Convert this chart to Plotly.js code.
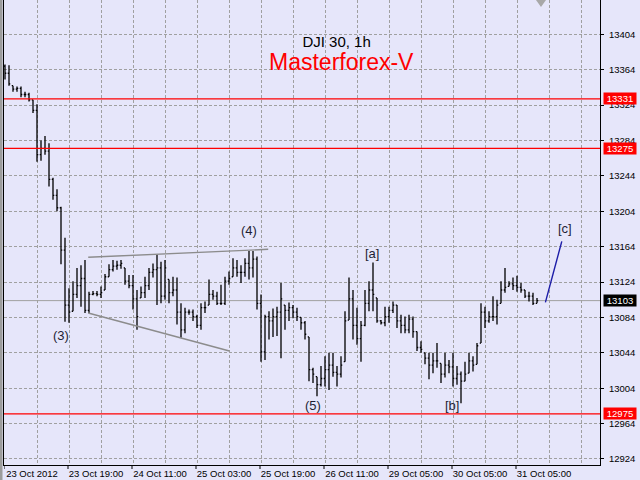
<!DOCTYPE html>
<html>
<head>
<meta charset="utf-8">
<script src="https://cdn.plot.ly/plotly-3.0.1.min.js"></script>
<style>html,body{margin:0;padding:0;background:#E6E6FA;}#chart{width:640px;height:480px;}</style>
</head>
<body>
<div id="chart"></div>
<script>
// ---- data (DJI 30, 1h bars) ----
const barOpen = [13368,13360,13346,13342,13343,13336,13336,13330,13318,13268,13275,13272,13240,13222,13208,13160,13098,13091,13110,13120,
13128,13092,13110,13111,13110,13115,13130,13138,13142,13143,13140,13125,13120,13105,13106,13112,13120,13135,13138,13140,
13108,13127,13112,13115,13090,13070,13090,13090,13085,13075,13095,13098,13110,13108,13100,13100,13125,13130,13140,13135,
13135,13145,13140,13150,13100,13045,13085,13080,13085,13090,13098,13092,13095,13090,13084,13078,13062,13025,13017,13008,
13015,13025,13030,13022,13020,13034,13081,13105,13075,13060,13075,13100,13115,13106,13080,13078,13085,13092,13098,13080,
13075,13070,13082,13068,13050,13044,13038,13030,13035,13032,13020,13030,13028,13015,13020,13012,13021,13035,13031,13055,
13090,13080,13085,13085,13100,13115,13119,13122,13120,13118,13115,13108,13108,13100];
const barHigh = [13370,13369,13346,13345,13345,13339,13338,13330,13325,13284,13289,13281,13242,13229,13209,13174,13117,13125,13140,13143,
13149,13113,13114,13114,13119,13133,13144,13149,13148,13149,13140,13132,13132,13115,13119,13130,13140,13145,13155,13147,
13149,13127,13130,13129,13100,13095,13093,13093,13087,13100,13102,13127,13115,13113,13121,13130,13136,13151,13149,13143,
13151,13159,13159,13153,13110,13087,13091,13094,13096,13123,13098,13101,13098,13095,13084,13080,13062,13027,13017,13029,
13040,13044,13044,13029,13040,13091,13129,13115,13095,13080,13115,13125,13146,13106,13081,13096,13096,13102,13098,13087,
13085,13087,13085,13068,13057,13044,13044,13044,13055,13032,13044,13036,13044,13029,13023,13034,13044,13040,13055,13100,
13096,13091,13108,13104,13125,13140,13125,13129,13131,13123,13115,13113,13112,13106];
const barLow = [13353,13346,13339,13339,13333,13333,13328,13315,13260,13261,13268,13232,13217,13204,13144,13079,13078,13091,13106,13096,
13089,13089,13109,13108,13106,13115,13130,13136,13138,13139,13121,13117,13093,13070,13106,13106,13115,13129,13098,13100,
13104,13100,13108,13076,13061,13066,13087,13080,13072,13070,13089,13098,13104,13098,13098,13098,13121,13130,13130,13123,
13130,13127,13129,13093,13034,13036,13059,13062,13063,13038,13070,13080,13083,13080,13070,13059,13012,13010,12995,13006,
13006,13002,13017,13006,13016,13034,13081,13059,13053,13034,13074,13091,13091,13078,13076,13074,13078,13089,13072,13066,
13066,13066,13061,13046,13044,13031,13014,13021,13027,13010,13016,13021,13006,13008,12987,13012,13021,13023,13031,13055,
13072,13078,13080,13076,13100,13112,13119,13115,13113,13112,13106,13102,13098,13100];
const barClose = [13360,13348,13342,13343,13336,13336,13330,13318,13268,13275,13272,13240,13222,13208,13160,13098,13090,13110,13120,13128,
13092,13110,13111,13110,13112,13130,13138,13142,13143,13145,13125,13120,13105,13085,13112,13120,13135,13138,13140,13108,
13140,13112,13115,13090,13070,13090,13090,13085,13075,13095,13095,13110,13108,13100,13100,13125,13128,13140,13135,13135,
13145,13140,13150,13100,13045,13085,13080,13085,13090,13105,13092,13095,13090,13085,13078,13065,13025,13020,13008,13015,
13025,13030,13022,13020,13030,13080,13105,13075,13060,13075,13100,13115,13110,13080,13078,13085,13092,13098,13080,13075,
13070,13082,13068,13050,13048,13038,13030,13035,13035,13020,13030,13028,13015,13020,13012,13020,13035,13030,13052,13090,
13080,13085,13085,13098,13115,13118,13122,13120,13118,13115,13108,13108,13100,13103];

const tickBars = [0,16,32,48,64,80,96,112,128];
const tickText = ['23 Oct 2012','23 Oct 19:00','24 Oct 11:00','25 Oct 03:00','25 Oct 19:00','26 Oct 11:00','29 Oct 05:00','30 Oct 05:00','31 Oct 05:00'];
const priceTicks = [12924,12964,13004,13044,13084,13124,13164,13204,13244,13284,13324,13364,13404];

const redLevels = [13331, 13275, 12975];
const currentPrice = 13103;

const triUpperX = [20.8, 65.8];
const triUpperY = [13152, 13161];
const triLowerX = [20.8, 56.1];
const triLowerY = [13089, 13046];

const waveCX = [135.1, 139.2];
const waveCY = [13101, 13170];

const waveText = ['(3)','(4)','(5)','[a]','[b]','[c]'];
const waveX = [13.9, 60.9, 76.9, 91.8, 111.8, 139.9];
const waveY = [13064, 13182, 12985, 13156, 12985, 13184];

// ---- build ----
const barIndex = barClose.map((_, i) => i);
const FONT = 'Liberation Sans, Arial, sans-serif';

const traces = [
  {
    type: 'ohlc', x: barIndex, open: barOpen, high: barHigh, low: barLow, close: barClose,
    increasing: {line: {color: '#000000', width: 1.3}},
    decreasing: {line: {color: '#000000', width: 1.3}},
    tickwidth: 0.32, hoverinfo: 'skip', showlegend: false
  },
  {type: 'scatter', mode: 'lines', x: triUpperX, y: triUpperY, line: {color: '#8c8c8c', width: 1.4}, hoverinfo: 'skip', showlegend: false},
  {type: 'scatter', mode: 'lines', x: triLowerX, y: triLowerY, line: {color: '#8c8c8c', width: 1.4}, hoverinfo: 'skip', showlegend: false},
  {type: 'scatter', mode: 'lines', x: waveCX, y: waveCY, line: {color: '#1c1ca8', width: 1.4}, hoverinfo: 'skip', showlegend: false}
];

const shapes = [];
redLevels.forEach(v => shapes.push({type: 'line', xref: 'paper', x0: 0, x1: 1, yref: 'y', y0: v, y1: v, line: {color: '#ff0000', width: 1.2}, layer: 'above'}));
shapes.push({type: 'line', xref: 'paper', x0: 0, x1: 1, yref: 'y', y0: currentPrice, y1: currentPrice, line: {color: '#a0a0a0', width: 1}, layer: 'below'});
// x-axis tick marks (below the axis line)
tickBars.forEach(b => shapes.push({type: 'line', xref: 'x', yref: 'paper', x0: b - 0.25, x1: b - 0.25, y0: 0, y1: -4/465, line: {color: '#000000', width: 1}}));
// left window frame
shapes.push({type: 'rect', xref: 'paper', yref: 'paper', x0: -4/596, x1: -1.5/596, y0: -15/465, y1: 1, fillcolor: '#9c9c9c', line: {width: 0}});
// chart shift marker
shapes.push({type: 'path', xref: 'paper', yref: 'paper', path: 'M 0.8926 1 L 0.9094 1 L 0.9010 0.985 Z', fillcolor: '#a8a8a8', line: {width: 0}});

const annotations = [];
waveText.forEach((t, i) => annotations.push({
  x: waveX[i], y: waveY[i], xref: 'x', yref: 'y', text: t, showarrow: false,
  font: {family: FONT, size: 13, color: '#1e1e34'}, xanchor: 'center', yanchor: 'middle'
}));
annotations.push({
  xref: 'paper', yref: 'paper', x: 0.5655, y: 0.866, text: 'Masterforex-V', showarrow: false,
  font: {family: FONT, size: 23, color: '#ff0000'}, xanchor: 'center', yanchor: 'middle'
});
redLevels.forEach(v => annotations.push({
  xref: 'paper', yref: 'y', x: 1, y: v, xanchor: 'left', yanchor: 'middle', xshift: 3,
  text: String(v), showarrow: false, bgcolor: '#ff0000', width: 30, height: 9, borderpad: 1,
  font: {family: FONT, size: 9.5, color: '#ffffff'}
}));
annotations.push({
  xref: 'paper', yref: 'y', x: 1, y: currentPrice, xanchor: 'left', yanchor: 'middle', xshift: 3,
  text: String(currentPrice), showarrow: false, bgcolor: '#000000', width: 30, height: 9, borderpad: 1,
  font: {family: FONT, size: 9.5, color: '#ffffff'}
});

const layout = {
  width: 640, height: 480,
  margin: {l: 4, r: 40, t: 0, b: 15, pad: 0},
  paper_bgcolor: '#E6E6FA', plot_bgcolor: '#E6E6FA',
  title: {text: 'DJI 30, 1h', x: 0.526, y: 0.914, xref: 'container', yref: 'container', xanchor: 'center', yanchor: 'middle',
          font: {family: FONT, size: 15, color: '#000000'}},
  showlegend: false,
  hovermode: false,
  xaxis: {
    type: 'linear', range: [-0.25, 148.75], fixedrange: true,
    rangeslider: {visible: false},
    tickmode: 'array', tickvals: tickBars, ticktext: tickText,
    ticks: '', ticklabelshift: 27,
    tickfont: {family: FONT, size: 9.5, color: '#000000'},
    showgrid: true, gridcolor: '#a0a0a0', griddash: '3px,2px', gridwidth: 1,
    minor: {tickmode: 'linear', tick0: 0, dtick: 8, showgrid: true, gridcolor: '#a0a0a0', griddash: '3px,2px', gridwidth: 1, ticks: ''},
    showline: true, linecolor: '#000000', linewidth: 1,
    zeroline: false
  },
  yaxis: {
    side: 'right', range: [12917.2, 13442.8], fixedrange: true,
    tickmode: 'array', tickvals: priceTicks, ticktext: priceTicks.map(String),
    ticks: 'outside', ticklen: 3, tickcolor: '#000000', ticklabelstandoff: 3,
    tickfont: {family: FONT, size: 9.5, color: '#000000'},
    showgrid: true, gridcolor: '#a0a0a0', griddash: '3px,2px', gridwidth: 1,
    showline: true, linecolor: '#000000', linewidth: 1, mirror: true,
    zeroline: false
  },
  shapes: shapes,
  annotations: annotations
};

Plotly.newPlot('chart', traces, layout, {displayModeBar: false, staticPlot: true});
</script>
</body>
</html>
